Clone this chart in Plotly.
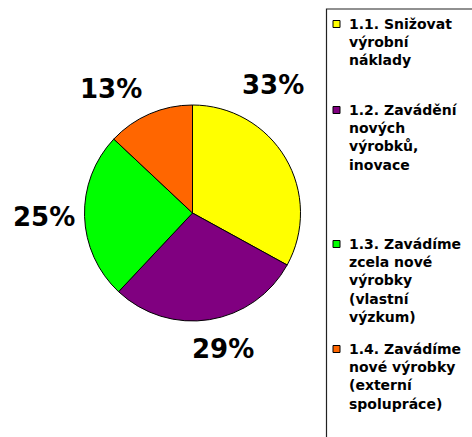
import plotly.graph_objects as go

# ---- data ----
categories = [
    "1.1. Snižovat<br>výrobní<br>náklady",
    "1.2. Zavádění<br>nových<br>výrobků,<br>inovace",
    "1.3. Zavádíme<br>zcela nové<br>výrobky<br>(vlastní<br>výzkum)",
    "1.4. Zavádíme<br>nové výrobky<br>(externí<br>spolupráce)",
]
values = [33, 29, 25, 13]
colors = ["#FFFF00", "#800080", "#00FF00", "#FF6600"]

# ---- layout constants (pixels) ----
W, H = 472, 437
def px(x):
    return x / W
def py(y):
    return 1 - y / H

cx, cy, r = 192.5, 213, 108
label_pos = [(273, 85), (223, 349), (44, 217), (111, 89)]
legend_first_line_y = [24, 110, 244, 349]
FONT = "DejaVu Sans"

fig = go.Figure()
fig.add_trace(go.Pie(
    labels=categories,
    values=values,
    sort=False,
    direction="clockwise",
    rotation=0,
    marker=dict(colors=colors, line=dict(color="black", width=1)),
    textinfo="none",
    hoverinfo="label+percent",
    showlegend=False,
    domain=dict(x=[px(cx - r), px(cx + r)], y=[py(cy + r), py(cy - r)]),
))

total = sum(values)
annotations = []
for v, (lx, ly) in zip(values, label_pos):
    annotations.append(dict(
        x=px(lx), y=py(ly), xref="paper", yref="paper",
        text=f"<b>{round(v / total * 100)}%</b>", showarrow=False,
        xanchor="center", yanchor="middle",
        font=dict(family=FONT, size=26, color="black"),
    ))

shapes = [
    # legend frame (cut off at right and bottom)
    dict(type="rect", xref="paper", yref="paper",
         x0=px(326.5), x1=px(480), y0=py(9), y1=py(445),
         line=dict(color="#222222", width=1.2), fillcolor="rgba(0,0,0,0)"),
]
for cat, col, ly in zip(categories, colors, legend_first_line_y):
    shapes.append(dict(type="rect", xref="paper", yref="paper",
                       x0=px(333), x1=px(340), y0=py(ly + 3.5), y1=py(ly - 3.5),
                       line=dict(color="black", width=1), fillcolor=col))
    annotations.append(dict(
        x=px(347), y=py(ly - 10), xref="paper", yref="paper",
        text=f"<b>{cat}</b>", showarrow=False, align="left",
        xanchor="left", yanchor="top",
        font=dict(family=FONT, size=14, color="black"),
    ))

fig.update_layout(
    width=W, height=H, autosize=False,
    margin=dict(l=0, r=0, t=0, b=0),
    paper_bgcolor="white", plot_bgcolor="white",
    annotations=annotations, shapes=shapes,
)

fig.write_html("out.html", config={"displayModeBar": False},
               post_script="document.body.style.margin='0';")
